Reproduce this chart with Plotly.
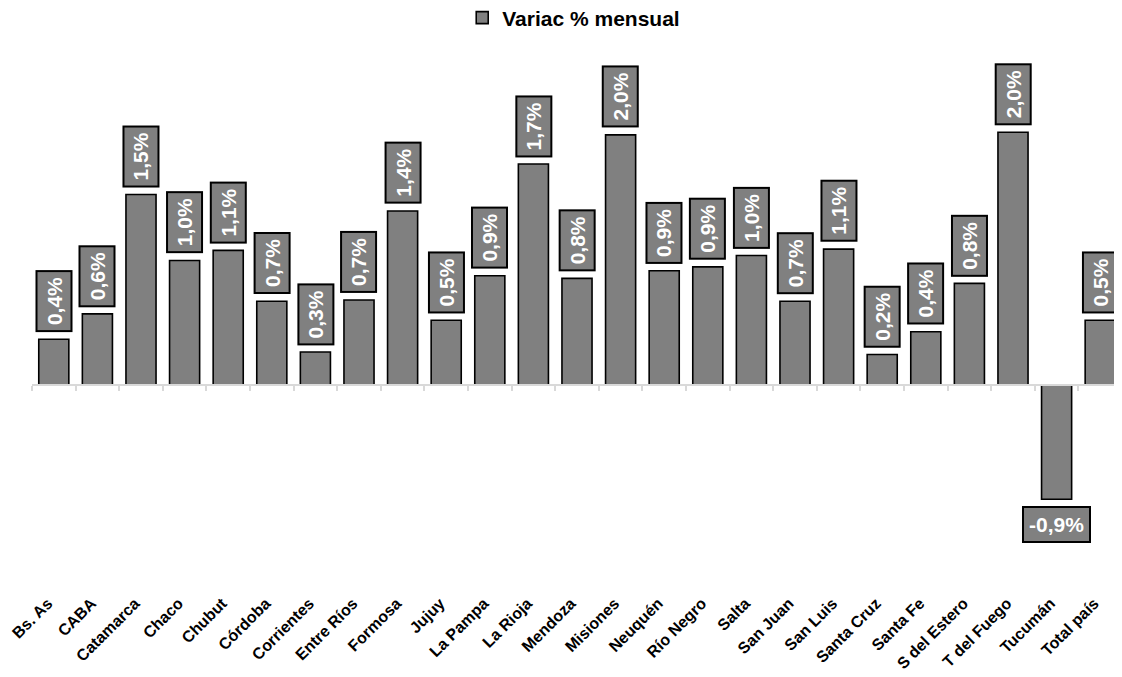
import plotly.graph_objects as go

categories = ["Bs. As", "CABA", "Catamarca", "Chaco", "Chubut", "Córdoba", "Corrientes",
              "Entre Ríos", "Formosa", "Jujuy", "La Pampa", "La Rioja", "Mendoza", "Misiones",
              "Neuquén", "Río Negro", "Salta", "San Juan", "San Luis", "Santa Cruz", "Santa Fe",
              "S del Estero", "T del Fuego", "Tucumán", "Total país"]
values = [0.36, 0.56, 1.50, 0.98, 1.06, 0.66, 0.26, 0.67, 1.37, 0.51, 0.86, 1.74, 0.84, 1.97,
          0.90, 0.93, 1.02, 0.66, 1.07, 0.24, 0.42, 0.80, 1.99, -0.90, 0.51]
series_name = "Variac % mensual"

labels = [f"{v:.1f}".replace(".", ",") + "%" for v in values]

FONT = "Liberation Sans, Arial, sans-serif"
GRAY = "#808080"

fig = go.Figure()
fig.add_trace(go.Bar(
    x=categories, y=values, name=series_name,
    marker=dict(color=GRAY, line=dict(color="#000000", width=1.6)),
    showlegend=True,
))
# helper trace for the axis drawn at zero
fig.add_trace(go.Scatter(x=[None], y=[None], xaxis="x2", showlegend=False, hoverinfo="skip"))

y_top, y_bot = 2.638, -1.614
zero_pos = (0 - y_bot) / (y_top - y_bot)

for c, v, t in zip(categories, values, labels):
    pos = v >= 0
    fig.add_annotation(x=c, y=v, text=t, showarrow=False, textangle=-90 if pos else 0,
                       yanchor="bottom" if pos else "top", yshift=7 if pos else -7,
                       xanchor="center",
                       font=dict(family=FONT, size=21, color="white", weight="bold"),
                       bgcolor=GRAY, bordercolor="#000000", borderwidth=2, borderpad=5)

# page body adds an 8px offset; compensate in size and margins
fig.update_layout(
    width=1114, height=669,
    margin=dict(l=24, r=0, t=42, b=87, autoexpand=False),
    paper_bgcolor="white", plot_bgcolor="white",
    bargap=0.31,
    font=dict(family=FONT, color="#000000"),
    legend=dict(orientation="h", x=0.497, xanchor="center", y=1 + 32 / 540, yanchor="middle",
                font=dict(family=FONT, size=21, color="#000000", weight="bold"),
                itemwidth=30, bgcolor="rgba(0,0,0,0)"),
    xaxis=dict(type="category", range=[-0.5, 24.5], tickangle=-45, showline=False,
               showgrid=False, zeroline=False, ticks="", automargin=False,
               ticklabelshift=-6,
               tickfont=dict(family=FONT, size=16, color="#000000", weight="bold")),
    xaxis2=dict(overlaying="x", anchor="free", position=zero_pos, range=[-0.5, 24.5],
                tickvals=[i - 0.5 for i in range(len(categories) + 1)],
                ticks="outside", ticklen=5, tickwidth=1.5, tickcolor="#d9d9d9",
                showline=True, linecolor="#d9d9d9", linewidth=1.5, automargin=False,
                showticklabels=False, showgrid=False, zeroline=False),
    yaxis=dict(range=[y_bot, y_top], visible=False, showgrid=False, zeroline=False,
               automargin=False),
)

fig.write_html("out.html")
